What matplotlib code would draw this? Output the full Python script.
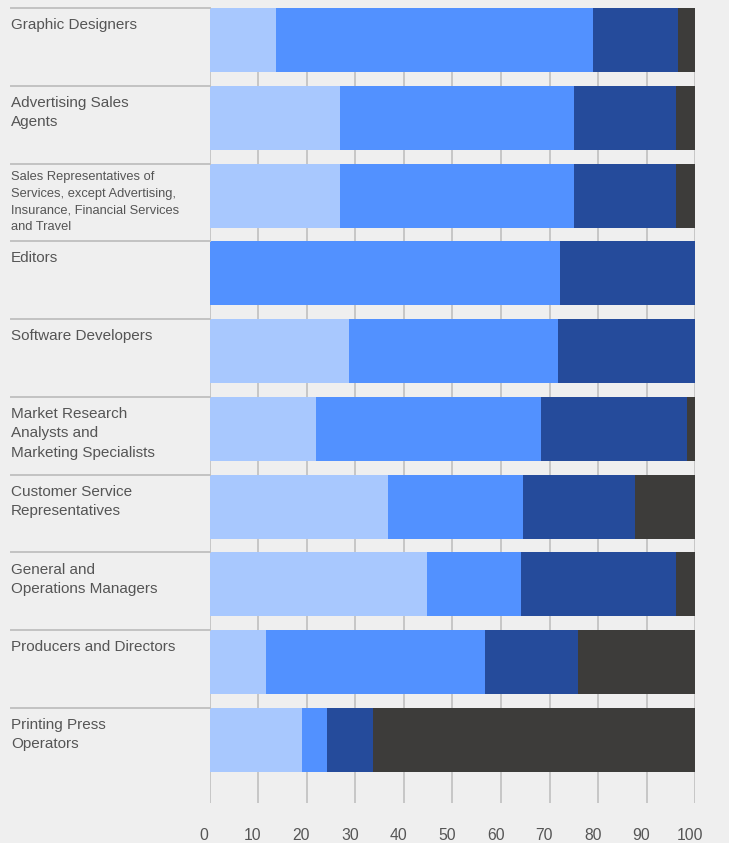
import matplotlib
matplotlib.use("Agg")
import matplotlib.pyplot as plt
from matplotlib.lines import Line2D
from matplotlib.transforms import blended_transform_factory, ScaledTranslation

categories = [
    "Graphic Designers",
    "Advertising Sales\nAgents",
    "Sales Representatives of\nServices, except Advertising,\nInsurance, Financial Services\nand Travel",
    "Editors",
    "Software Developers",
    "Market Research\nAnalysts and\nMarketing Specialists",
    "Customer Service\nRepresentatives",
    "General and\nOperations Managers",
    "Producers and Directors",
    "Printing Press\nOperators",
]
seg1 = [13.7, 26.9, 26.9, 0.0, 28.7, 21.9, 36.7, 44.8, 11.6, 19.0]
seg2 = [65.2, 48.1, 48.1, 72.1, 43.0, 46.3, 27.8, 19.3, 45.1, 5.2]
seg3 = [17.5, 21.0, 21.0, 27.9, 28.3, 30.0, 23.1, 31.9, 19.1, 9.4]
seg4 = [3.6, 4.0, 4.0, 0.0, 0.0, 1.8, 12.4, 4.0, 24.2, 66.4]
xticks = [0, 10, 20, 30, 40, 50, 60, 70, 80, 90, 100]

colors = ["#a8c8fe", "#5291ff", "#254b9b", "#3d3c3a"]
bg = "#efefef"
textc = "#555555"

W, H = 729, 843
fig = plt.figure(figsize=(W / 100, H / 100), dpi=100, facecolor=bg)
ax = fig.add_axes([209.5 / W, 1 - 803 / H, 486 / W, 795 / H])
ax.set_facecolor(bg)

bh = 0.823
ypos = list(range(len(categories)))
left = [0.0] * len(categories)
for seg, c in zip([seg1, seg2, seg3, seg4], colors):
    ax.barh(ypos, seg, left=left, height=bh, color=c, edgecolor="none", zorder=3)
    left = [l + s for l, s in zip(left, seg)]

ax.set_xlim(0, 100)
ax.set_ylim(len(categories) - 1 + 0.81, -bh / 2)
ax.set_xticks(xticks)
ax.set_xticklabels([str(t) for t in xticks], color=textc, fontsize=11.3,
                   family=["Liberation Sans", "DejaVu Sans"])
ax.tick_params(axis="x", length=0, pad=18)
off = ScaledTranslation(-5.5 / 100, 0, fig.dpi_scale_trans)
for lab in ax.get_xticklabels():
    lab.set_transform(lab.get_transform() + off)
ax.set_yticks([])
ax.grid(axis="x", color="#c6c6c6", linewidth=1.4, zorder=0)
for s in ax.spines.values():
    s.set_visible(False)

trans = blended_transform_factory(fig.transFigure, ax.transData)
for i, cat in enumerate(categories):
    top = i - bh / 2
    fig.add_artist(Line2D([11 / W, 209.5 / W], [top, top], transform=trans,
                          color="#c2c2c2", linewidth=1.4))
    small = i == 2
    ax.text(11 / W, top + (0.1 if small else 0.13), cat, transform=trans,
            ha="left", va="top", fontsize=9.3 if small else 11,
            linespacing=1.52 if small else 1.48, color=textc,
            family=["Liberation Sans", "DejaVu Sans"])

fig.savefig("out.png", dpi=100, facecolor=bg)
